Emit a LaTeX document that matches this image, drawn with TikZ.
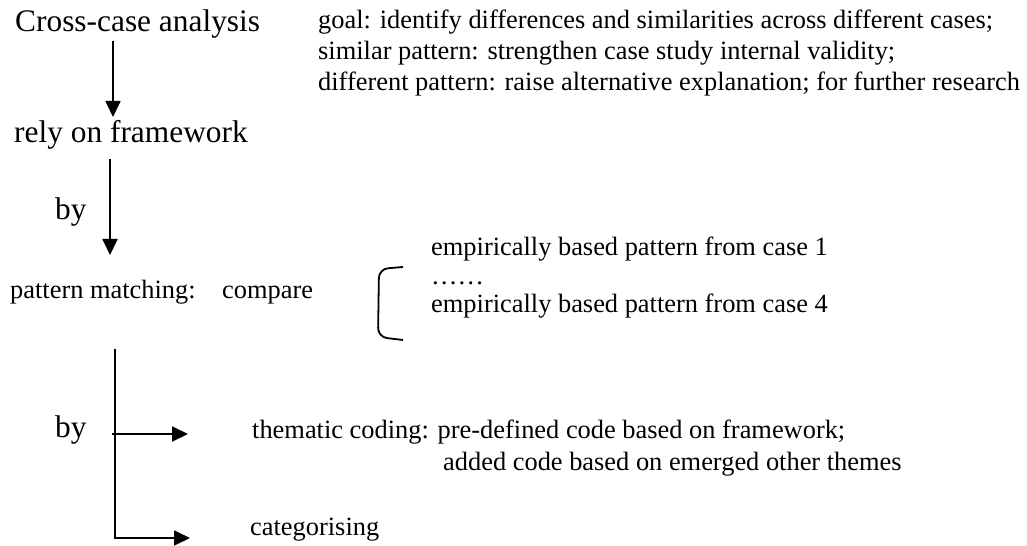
\documentclass[tikz,border=0pt]{standalone}
\usepackage{fontspec}
\setmainfont{Liberation Serif}
\usetikzlibrary{arrows.meta}
\begin{document}
\begin{tikzpicture}[x=1bp,y=-1bp,
  big/.style={anchor=base west,inner sep=0pt,font=\fontsize{31.5}{36}\selectfont},
  small/.style={anchor=base west,inner sep=0pt,font=\fontsize{26.5}{31}\selectfont},
  flow/.style={line width=1.8bp,-{Triangle[width=15bp,length=16bp]}},
  rule/.style={line width=1.8bp}]
\useasboundingbox (0,0) rectangle (1027,546);

% main chain
\node[big] (cross) at (15,32) {Cross-case analysis};
\node[big] (rely) at (14,143) {rely on framework};
\node[big] (by1) at (55,220) {by};
\node[small] (pm) at (10,299) {pattern matching:};
\node[small] (cmp) at (222,299) {compare};

% notes on the goal of the analysis
\node[small] (g1) at (318,29) {goal: identify differences and similarities across different cases;};
\node[small] (g2) at (318,60) {similar pattern: strengthen case study internal validity;};
\node[small] (g3) at (318,91) {different pattern: raise alternative explanation; for further research};

% patterns being compared
\node[small] (e1) at (431,256) {empirically based pattern from case 1};
\node[small] (e2) at (431,285) {……};
\node[small] (e3) at (431,313) {empirically based pattern from case 4};

% techniques
\node[big] (by2) at (55,437) {by};
\node[small] (tc) at (252,438) {thematic coding: pre-defined code based on framework;};
\node[small] (ac) at (443,470) {added code based on emerged other themes};
\node[small] (cat) at (250,535) {categorising};

% connectors
\coordinate (a1s) at (113,41);
\coordinate (a1e) at (113,117);
\coordinate (a2s) at (110,159);
\coordinate (a2e) at (110,255);
\coordinate (vtop) at (115,349);
\coordinate (vbot) at (115,538);
\coordinate (b1s) at (112,434);
\coordinate (b1e) at (188,434);
\coordinate (b2e) at (190,538);

\draw[flow] (a1s) -- (a1e);
\draw[flow] (a2s) -- (a2e);
\draw[flow] (vtop) -- (vbot) -- (b2e);
\draw[flow] (b1s) -- (b1e);

% bracket grouping the compared patterns
\draw[rule,rounded corners=9bp] (403,267) -- (379,269) -- (378,337) -- (403,340);
\end{tikzpicture}
\end{document}
